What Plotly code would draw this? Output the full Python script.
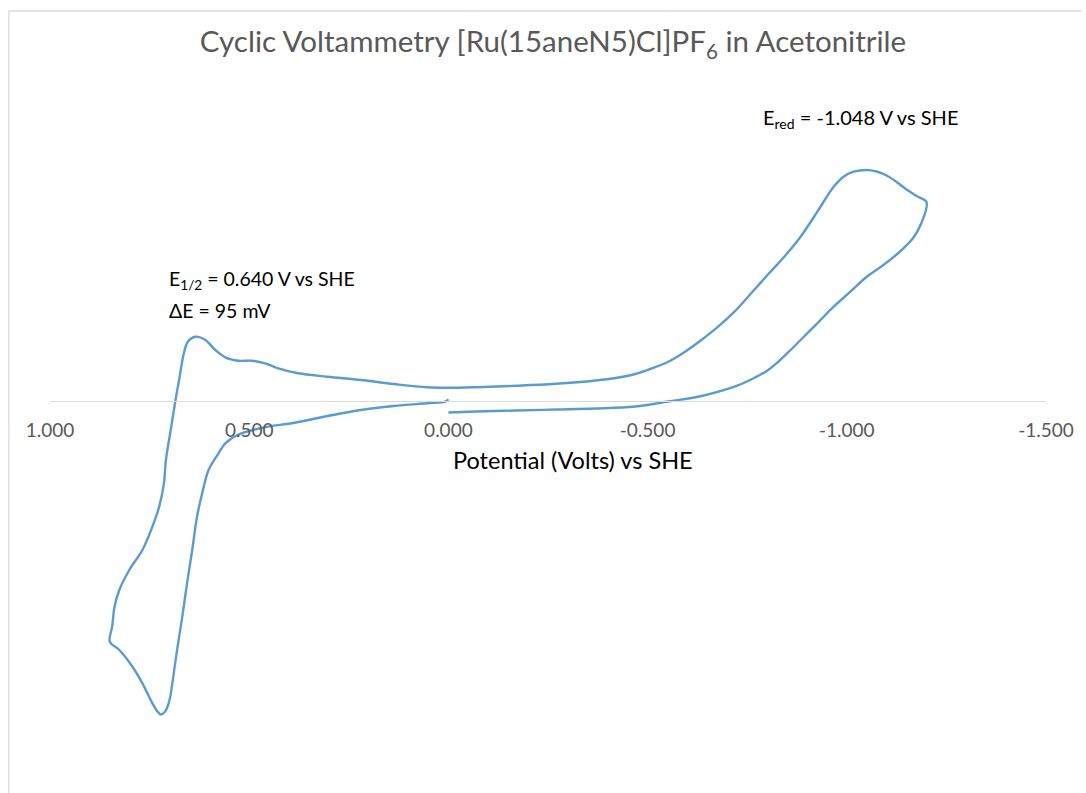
import plotly.graph_objects as go

# Cyclic voltammogram: scan starts at 0.000 V, runs to -1.200 V,
# reverses to +0.850 V and returns to 0.000 V.
potential_V = [
    # forward (cathodic) sweep, 0 -> -1.2 V
    0.000, -0.071, -0.170, -0.270, -0.370, -0.469, -0.552, -0.635, -0.718,
    -0.760, -0.801, -0.826, -0.859, -0.884, -0.926, -0.967, -1.009, -1.050,
    -1.092, -1.133, -1.166, -1.187, -1.200,
    # reverse sweep, -1.2 -> +0.85 V
    -1.175, -1.150, -1.125, -1.100, -1.075, -1.048, -1.017, -0.992, -0.967,
    -0.950, -0.926, -0.884, -0.843, -0.801, -0.760, -0.718, -0.677, -0.635,
    -0.594, -0.552, -0.511, -0.469, -0.420, -0.370, -0.270, -0.170, -0.071,
    0.004, 0.054, 0.137, 0.220, 0.303, 0.377, 0.427, 0.460, 0.494, 0.527,
    0.560, 0.585, 0.610, 0.635, 0.654, 0.664, 0.676, 0.685, 0.697, 0.709,
    0.714, 0.726, 0.743, 0.768, 0.801, 0.826, 0.838, 0.844, 0.850,
    # return sweep, +0.85 -> 0 V
    0.826, 0.793, 0.768, 0.743, 0.732, 0.722, 0.712, 0.705, 0.698, 0.693,
    0.681, 0.668, 0.656, 0.643, 0.631, 0.618, 0.602, 0.577, 0.560, 0.527,
    0.470, 0.386, 0.303, 0.220, 0.137, 0.054, 0.008, 0.000,
]
current_uA = [
    -1.2, -1.1, -1.0, -0.9, -0.8, -0.6, -0.1, 0.45, 1.38,
    2.10, 3.00, 3.80, 5.05, 6.05, 7.72, 9.38, 10.88, 12.38,
    13.55, 14.88, 16.22, 17.72, 19.85,
    20.45, 21.10, 21.85, 22.50, 22.90, 23.05, 22.88, 22.38, 21.38,
    20.38, 18.88, 16.38, 14.38, 12.55, 10.72, 8.88, 7.38, 6.05,
    4.88, 3.88, 3.22, 2.65, 2.25, 2.00, 1.67, 1.47, 1.33,
    1.27, 1.32, 1.65, 2.05, 2.38, 2.72, 3.22, 3.72, 3.98, 3.98,
    4.32, 5.05, 6.05, 6.38, 5.88, 4.72, 2.05, 0.05, -2.95, -5.95,
    -8.28, -10.62, -12.62, -14.95, -16.95, -18.95, -20.62, -22.62, -24.12,
    -24.95, -26.62, -28.28, -30.28, -31.00, -31.40, -31.15, -30.62, -29.60, -28.28,
    -24.95, -21.62, -18.28, -14.95, -11.62, -9.28, -6.95, -5.28, -4.28, -3.40,
    -2.75, -2.22, -1.55, -0.95, -0.55, -0.28, -0.12, 0.12,
]

tick_values = [1.0, 0.5, 0.0, -0.5, -1.0, -1.5]
tick_labels = ["1.000", "0.500", "0.000", "-0.500", "-1.000", "-1.500"]

x_range = [1.0, -1.5]
y_range = [-37.95, 30.05]

FONT = "Lato"
GREY = "#595959"

fig = go.Figure()
fig.add_trace(go.Scatter(
    x=potential_V, y=current_uA, mode="lines",
    line=dict(color="#5B9BD5", width=2.4, shape="spline", smoothing=1.0,
              simplify=False),
    showlegend=False, hoverinfo="x+y",
))

# the potential axis crosses the current axis at zero current
axis_pos = (0 - y_range[0]) / (y_range[1] - y_range[0])

fig.update_layout(
    width=1086, height=793,
    margin=dict(l=50, r=32, t=100, b=13),
    paper_bgcolor="white", plot_bgcolor="white",
    font=dict(family=FONT, color=GREY),
    title=dict(
        text="Cyclic Voltammetry [Ru(15aneN5)Cl]PF<sub>6</sub> in Acetonitrile",
        x=553 / 1086, xanchor="center", xref="container",
        y=1 - 42 / 793, yanchor="middle", yref="container",
        font=dict(family=FONT, size=29.5, color=GREY),
    ),
    xaxis=dict(
        range=x_range, anchor="free", position=axis_pos,
        tickmode="array", tickvals=tick_values, ticktext=tick_labels,
        showgrid=False, zeroline=False,
        showline=True, linecolor="#D9D9D9", linewidth=1.3,
        ticks="", ticklabelstandoff=13,
        tickfont=dict(family=FONT, size=19, color=GREY),
    ),
    yaxis=dict(
        range=y_range, showgrid=False, zeroline=False, showline=False,
        showticklabels=False, ticks="",
    ),
)

annotations = [
    dict(text="Potential (Volts) vs SHE", xref="paper", yref="y",
         x=(577 - 50) / 1004, y=-5.95, xanchor="center", yanchor="middle",
         font=dict(size=23.5, color="#000000")),
    dict(text="E<sub>1/2</sub> = 0.640 V vs SHE", xref="x", yref="y",
         x=0.706, y=12.05, xanchor="left", yanchor="middle",
         font=dict(size=19.5, color="#000000")),
    dict(text="ΔE = 95 mV", xref="x", yref="y",
         x=0.706, y=9.05, xanchor="left", yanchor="middle",
         font=dict(size=19.5, color="#000000")),
    dict(text="E<sub>red</sub> = -1.048 V vs SHE", xref="x", yref="y",
         x=-1.035, y=28.25, xanchor="center", yanchor="middle",
         font=dict(size=20, color="#000000")),
]
for a in annotations:
    a.update(showarrow=False, font=dict(family=FONT, **a["font"]))
fig.update_layout(annotations=annotations)

# chart-area border along the left and top edges
def px_x(px):
    return (px - 50) / 1004

def px_y(py):
    return (780 - py) / 680

border = dict(color="#D9D9D9", width=1.3)
fig.add_shape(type="line", xref="paper", yref="paper",
              x0=px_x(8.5), x1=px_x(8.5), y0=px_y(11), y1=px_y(800), line=border)
fig.add_shape(type="line", xref="paper", yref="paper",
              x0=px_x(8.5), x1=px_x(1090), y0=px_y(11), y1=px_y(11), line=border)

fig.write_html("out.html")
